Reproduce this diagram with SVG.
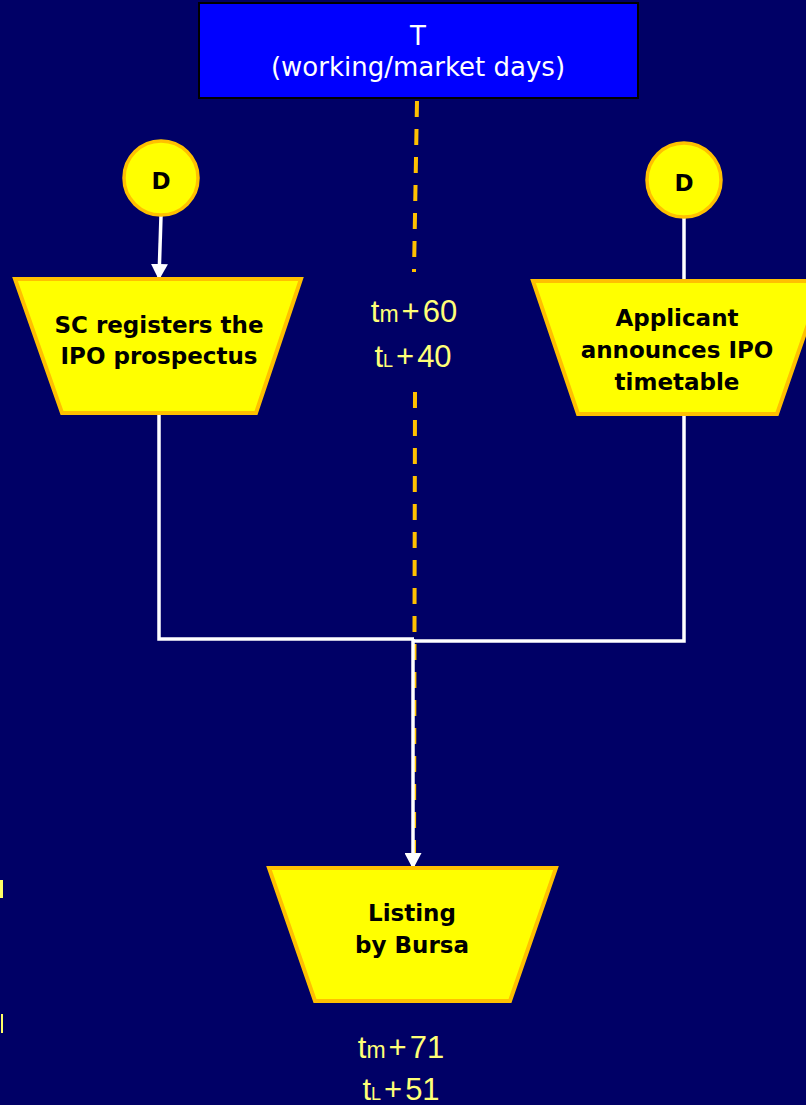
<svg xmlns="http://www.w3.org/2000/svg" width="806" height="1105" viewBox="0 0 806 1105">
<defs>
<style>
.bg{fill:#000066}
.trap{fill:#FFFF00;stroke:#FFC000;stroke-width:4;stroke-linejoin:miter}
.circ{fill:#FFFF00;stroke:#FFC000;stroke-width:3.5}
.nt{font-family:"DejaVu Sans",Verdana,sans-serif;font-weight:bold;font-size:23px;fill:#000;text-anchor:middle}
.tt{font-family:"DejaVu Sans",Verdana,sans-serif;font-size:26px;fill:#fff;text-anchor:middle}
.lab{font-family:"Liberation Sans",Arial,sans-serif;font-size:31px;fill:#FFFF77;text-anchor:middle}
.subm{font-size:23px}
.subl{font-size:18px}
.conn{fill:none;stroke:#fff;stroke-width:3.5}
.dash{fill:none;stroke:#FFC000;stroke-width:4;stroke-dasharray:16 12}
</style>
<marker id="arrB" markerWidth="16" markerHeight="17" refX="14" refY="8.5" orient="auto" markerUnits="userSpaceOnUse" viewBox="0 0 16 17">
<path d="M0,0 L16,8.5 L0,17 Z" fill="#fff"/>
</marker>
</defs>
<rect class="bg" x="0" y="0" width="806" height="1105"/>

<g id="timeline">
<path class="dash" d="M417,101 L414,272"/>
<path class="dash" d="M415,392 L414,866"/>
</g>

<g id="connectors">
<path class="conn" d="M161,216 L159,278" marker-end="url(#arrB)"/>
<path class="conn" d="M684,217 L684,281"/>
<path class="conn" d="M159,414 L159,639 L414,639"/>
<path class="conn" d="M684,416 L684,641 L413,641"/>
<path class="conn" d="M413,639 L413,867" marker-end="url(#arrB)"/>
</g>

<g id="header">
<rect x="199" y="3" width="439" height="95" fill="#0000FF" stroke="#000" stroke-width="2"/>
<text class="tt" x="418" y="45">T</text>
<text class="tt" x="418" y="76">(working/market days)</text>
</g>

<g id="d-left">
<circle class="circ" cx="161" cy="178" r="37"/>
<text class="nt" x="161" y="189">D</text>
</g>
<g id="d-right">
<circle class="circ" cx="684" cy="180" r="37"/>
<text class="nt" x="684" y="191">D</text>
</g>

<g id="sc-registers">
<polygon class="trap" points="15,279 301,279 256,413 62,413"/>
<text class="nt" x="159" y="333">SC registers the</text>
<text class="nt" x="159" y="364">IPO prospectus</text>
</g>

<g id="applicant">
<polygon class="trap" points="533,281 823,281 777,414 578,414"/>
<text class="nt" x="677" y="326">Applicant</text>
<text class="nt" x="677" y="358">announces IPO</text>
<text class="nt" x="677" y="390">timetable</text>
</g>

<g id="listing">
<polygon class="trap" points="269,868 556,868 510,1001 315,1001"/>
<text class="nt" x="412" y="921">Listing</text>
<text class="nt" x="412" y="953">by Bursa</text>
</g>

<g id="labels">
<text class="lab" x="414" y="322">t<tspan class="subm">m</tspan><tspan dx="3">+</tspan><tspan dx="3">60</tspan></text>
<text class="lab" x="413" y="367">t<tspan class="subl">L</tspan><tspan dx="3">+</tspan><tspan dx="3">40</tspan></text>
<text class="lab" x="401" y="1058">t<tspan class="subm">m</tspan><tspan dx="3">+</tspan><tspan dx="3">71</tspan></text>
<text class="lab" x="401" y="1100">t<tspan class="subl">L</tspan><tspan dx="3">+</tspan><tspan dx="3">51</tspan></text>
</g>

<g id="edge-marks">
<rect x="0" y="880" width="3" height="18" fill="#FFFF66"/>
<rect x="1" y="1014" width="2" height="19" fill="#FFFF66"/>
</g>
</svg>
